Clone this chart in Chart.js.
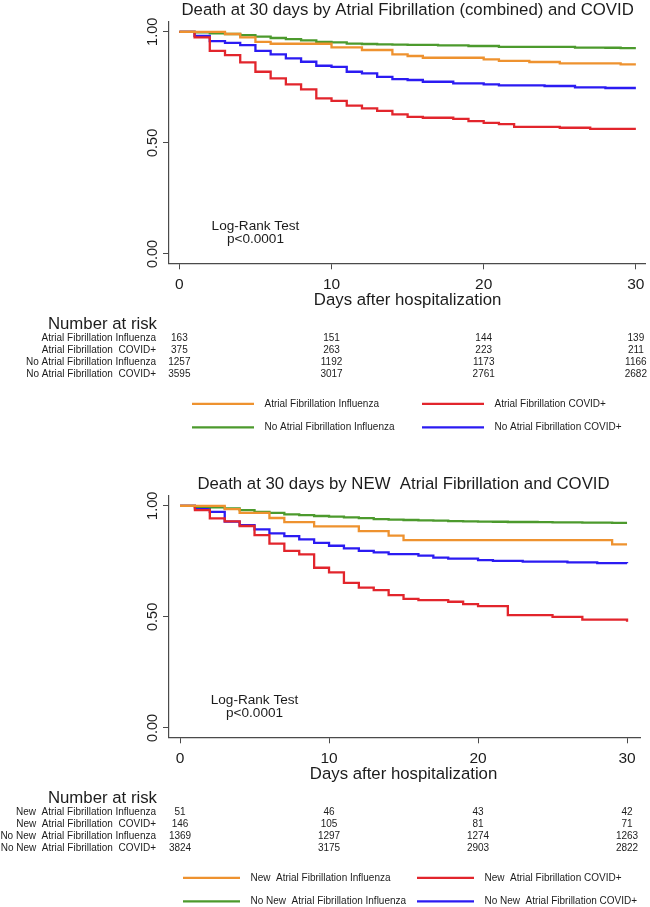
<!DOCTYPE html>
<html>
<head>
<meta charset="utf-8">
<script src="https://cdn.jsdelivr.net/npm/chart.js@4.4.1/dist/chart.umd.min.js"></script>
<style>
  html, body { margin: 0; padding: 0; background: #fff; }
  canvas { display: block; }
</style>
</head>
<body>
<canvas id="afAll" width="650" height="474"></canvas>
<canvas id="afNew" width="650" height="433"></canvas>
<script>
/* Kaplan-Meier, death at 30 days — two stacked panels */

// ─── Shared axes ───────────────────────────────────
const days = [0, 1, 2, 3, 4, 5, 6, 7, 8, 9, 10, 11, 12, 13, 14, 15,
  16, 17, 18, 19, 20, 21, 22, 23, 24, 25, 26, 27, 28, 29, 30];
const xTicks = [0, 10, 20, 30];
const yTicks = [0, 0.5, 1];
const riskDays = [0, 10, 20, 30];
const colors = ['#EE922F', '#E2252C', '#4C9A2D', '#2B1BF2'];

// ─── Panel 1: AF (combined) ────────────────────────
const allTitle = 'Death at 30 days by Atrial Fibrillation (combined) and COVID';
const allLegend = ['Atrial Fibrillation Influenza', 'Atrial Fibrillation COVID+',
  'No Atrial Fibrillation Influenza', 'No Atrial Fibrillation COVID+'];
const allRiskLabels = ['Atrial Fibrillation Influenza', 'Atrial Fibrillation  COVID+',
  'No Atrial Fibrillation Influenza', 'No Atrial Fibrillation  COVID+'];
const allAfFlu = [1, 1, 1, 0.99, 0.975, 0.955, 0.946, 0.946, 0.946, 0.946, 0.93, 0.93, 0.918, 0.918, 0.898, 0.891,
  0.883, 0.883, 0.883, 0.883, 0.876, 0.869, 0.869, 0.864, 0.864, 0.858, 0.858, 0.858, 0.858, 0.853, 0.853];
const allAfCovid = [1, 0.975, 0.914, 0.895, 0.862, 0.82, 0.79, 0.763, 0.741, 0.70, 0.689, 0.668, 0.655, 0.644, 0.628, 0.617,
  0.613, 0.613, 0.608, 0.598, 0.59, 0.584, 0.572, 0.572, 0.572, 0.568, 0.568, 0.563, 0.563, 0.563, 0.563];
const allNoAfFlu = [1, 0.997, 0.993, 0.99, 0.985, 0.978, 0.972, 0.967, 0.961, 0.955, 0.952, 0.947, 0.945, 0.943, 0.942, 0.941,
  0.941, 0.939, 0.939, 0.936, 0.936, 0.932, 0.932, 0.932, 0.932, 0.932, 0.929, 0.929, 0.928, 0.926, 0.926];
const allNoAfCovid = [1, 0.982, 0.958, 0.95, 0.94, 0.914, 0.898, 0.88, 0.865, 0.847, 0.842, 0.82, 0.813, 0.797, 0.787, 0.783,
  0.775, 0.775, 0.768, 0.768, 0.763, 0.759, 0.759, 0.759, 0.756, 0.756, 0.75, 0.75, 0.747, 0.747, 0.747];
const allRisk = [
  [163, 151, 144, 139],
  [375, 263, 223, 211],
  [1257, 1192, 1173, 1166],
  [3595, 3017, 2761, 2682],
];

// ─── Panel 2: NEW AF ───────────────────────────────
const newTitle = 'Death at 30 days by NEW  Atrial Fibrillation and COVID';
const newLegend = ['New  Atrial Fibrillation Influenza', 'New  Atrial Fibrillation COVID+',
  'No New  Atrial Fibrillation Influenza', 'No New  Atrial Fibrillation COVID+'];
const newRiskLabels = ['New  Atrial Fibrillation Influenza', 'New  Atrial Fibrillation  COVID+',
  'No New  Atrial Fibrillation Influenza', 'No New  Atrial Fibrillation  COVID+'];
const newAfFlu = [1, 1, 1, 0.985, 0.968, 0.968, 0.945, 0.926, 0.926, 0.907, 0.907, 0.907, 0.886, 0.886, 0.866, 0.845,
  0.845, 0.845, 0.845, 0.845, 0.845, 0.845, 0.845, 0.845, 0.845, 0.845, 0.845, 0.845, 0.845, 0.826, 0.826];
const newAfCovid = [1, 0.98, 0.943, 0.93, 0.909, 0.868, 0.83, 0.797, 0.781, 0.721, 0.70, 0.653, 0.632, 0.62, 0.598, 0.581,
  0.575, 0.575, 0.568, 0.557, 0.548, 0.548, 0.508, 0.508, 0.508, 0.5, 0.5, 0.488, 0.488, 0.488, 0.478];
const newNoAfFlu = [1, 0.995, 0.993, 0.988, 0.98, 0.973, 0.968, 0.961, 0.958, 0.954, 0.951, 0.948, 0.944, 0.94, 0.938, 0.936,
  0.934, 0.933, 0.931, 0.93, 0.929, 0.928, 0.927, 0.927, 0.926, 0.925, 0.925, 0.924, 0.924, 0.923, 0.923];
const newNoAfCovid = [1, 0.988, 0.973, 0.929, 0.913, 0.894, 0.876, 0.863, 0.849, 0.833, 0.82, 0.808, 0.797, 0.79, 0.782, 0.782,
  0.776, 0.767, 0.762, 0.762, 0.755, 0.752, 0.752, 0.749, 0.749, 0.749, 0.745, 0.745, 0.742, 0.742, 0.741];
const newRisk = [
  [51, 46, 43, 42],
  [146, 105, 81, 71],
  [1369, 1297, 1274, 1263],
  [3824, 3175, 2903, 2822],
];

// ─── Text helpers ──────────────────────────────────
const FONT = '"Liberation Sans", Arial, sans-serif';
const INK = '#1c1c1c';
const AXIS = '#4a4a4a';

function txt(ctx, s, x, y, size, align = 'center') {
  ctx.save();
  ctx.font = size + 'px ' + FONT;
  ctx.fillStyle = INK;
  ctx.textAlign = align;
  ctx.textBaseline = 'middle';
  ctx.fillText(s, x, y);
  ctx.restore();
}

// y labels read bottom-to-top, Stata style
function vtxt(ctx, s, x, y, size) {
  ctx.save();
  ctx.font = size + 'px ' + FONT;
  ctx.fillStyle = INK;
  ctx.textAlign = 'center';
  ctx.textBaseline = 'middle';
  ctx.translate(x, y);
  ctx.rotate(-Math.PI / 2);
  ctx.fillText(s, 0, 0);
  ctx.restore();
}

// titles, tick labels, risk table and legend
function drawDecor(chart, p) {
  const { ctx, chartArea: a } = chart;
  const x = chart.scales.x, y = chart.scales.y;
  const mid = (x.getPixelForValue(0) + x.getPixelForValue(30)) / 2;

  txt(ctx, p.title, mid, 10.5, 16.8);

  yTicks.forEach(v => vtxt(ctx, v.toFixed(2), 152.5, y.getPixelForValue(v), 14.5));
  xTicks.forEach(v => txt(ctx, String(v), x.getPixelForValue(v), a.bottom + 21, 15.5));
  txt(ctx, 'Days after hospitalization', mid, a.bottom + 37, 16.8);

  txt(ctx, 'Log-Rank Test', x.getPixelForValue(5), y.getPixelForValue(0.125), 13.6);
  txt(ctx, 'p<0.0001', x.getPixelForValue(5), y.getPixelForValue(0.065), 13.6);

  txt(ctx, 'Number at risk', 157, a.bottom + 61, 16.8, 'right');
  p.risk.forEach((row, i) => {
    const ry = a.bottom + 74.5 + i * 12;
    txt(ctx, p.riskLabels[i], 156, ry, 10, 'right');
    row.forEach((n, j) => txt(ctx, String(n), x.getPixelForValue(riskDays[j]), ry, 10));
  });

  p.legend.forEach((lab, i) => {
    const lx = p.legendX[i % 2];
    const ly = a.bottom + 140.5 + Math.floor(i / 2) * 23.5;
    ctx.save();
    ctx.strokeStyle = colors[i];
    ctx.lineWidth = 2.2;
    ctx.beginPath();
    ctx.moveTo(lx, ly);
    ctx.lineTo(lx + p.legendLen, ly);
    ctx.stroke();
    ctx.restore();
    txt(ctx, lab, lx + p.legendLen + 10.5, ly, 10, 'left');
  });
}

function kmChart(id, p) {
  const canvas = document.getElementById(id);
  return new Chart(canvas, {
    type: 'line',
    data: {
      datasets: p.series.map((vals, i) => ({
        label: p.legend[i],
        data: days.map((d, k) => ({ x: d, y: vals[k] })),
        borderColor: colors[i],
        borderWidth: 2.3,
        pointRadius: 0,
        stepped: true,
        fill: false,
      })),
    },
    options: {
      responsive: false,
      animation: false,
      events: [],
      layout: { padding: { top: 22, right: 650 - p.right, left: 0, bottom: 0 } },
      plugins: {
        legend: { display: false },
        tooltip: { enabled: false },
        title: { display: false },
      },
      scales: {
        x: {
          type: 'linear',
          min: p.xMin,
          max: p.xMax,
          afterBuildTicks: s => { s.ticks = xTicks.map(v => ({ value: v })); },
          afterFit: s => { s.height = canvas.height - 263.3; },
          ticks: { display: false },
          grid: { drawOnChartArea: false, tickLength: 6, color: AXIS, lineWidth: 1 },
          border: { color: AXIS, width: 1.2 },
        },
        y: {
          type: 'linear',
          min: -0.042,
          max: 1.044,
          afterBuildTicks: s => { s.ticks = yTicks.map(v => ({ value: v })); },
          afterFit: s => { s.width = 169; },
          ticks: { display: false },
          grid: { drawOnChartArea: false, tickLength: 6, color: AXIS, lineWidth: 1 },
          border: { color: AXIS, width: 1.2 },
        },
      },
    },
    plugins: [{ id: 'kmDecor', afterDraw: c => drawDecor(c, p) }],
  });
}

kmChart('afAll', {
  title: allTitle,
  legend: allLegend,
  riskLabels: allRiskLabels,
  series: [allAfFlu, allAfCovid, allNoAfFlu, allNoAfCovid],
  risk: allRisk,
  xMin: -0.68, xMax: 30.6, right: 645,
  legendX: [192, 422], legendLen: 62,
});

kmChart('afNew', {
  title: newTitle,
  legend: newLegend,
  riskLabels: newRiskLabels,
  series: [newAfFlu, newAfCovid, newNoAfFlu, newNoAfCovid],
  risk: newRisk,
  xMin: -0.74, xMax: 30.87, right: 640,
  legendX: [183, 417], legendLen: 57,
});
</script>
</body>
</html>
